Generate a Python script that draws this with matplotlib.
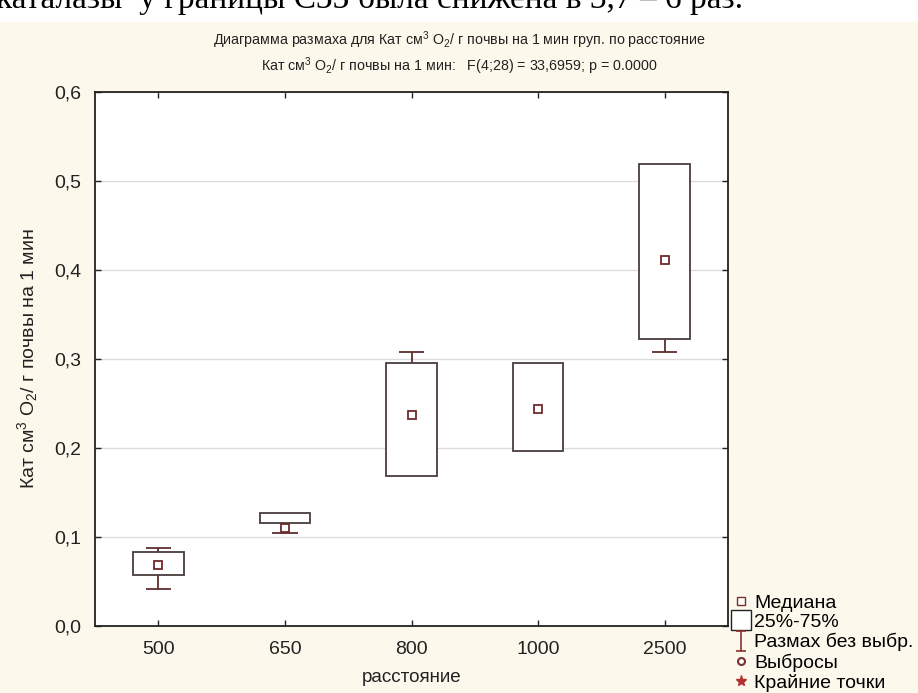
import numpy as np
import matplotlib
matplotlib.use('Agg')
import matplotlib.pyplot as plt
from matplotlib.lines import Line2D
from matplotlib.patches import Rectangle
from matplotlib.path import Path

plt.rcParams['font.family'] = ['Liberation Sans', 'DejaVu Sans']
plt.rcParams['mathtext.fontset'] = 'custom'
plt.rcParams['mathtext.rm'] = 'Liberation Sans'
plt.rcParams['mathtext.it'] = 'Liberation Sans'

# data
categories = ['500', '650', '800', '1000', '2500']
medians = [0.069, 0.110, 0.237, 0.244, 0.411]
q1 = [0.057, 0.116, 0.168, 0.197, 0.323]
q3 = [0.083, 0.127, 0.295, 0.295, 0.519]
whisk_lo = [0.042, 0.105, 0.168, 0.197, 0.308]
whisk_hi = [0.088, 0.127, 0.308, 0.295, 0.519]
yticks = [0.0, 0.1, 0.2, 0.3, 0.4, 0.5, 0.6]

box_col = '#4a3c3c'
wh_col = '#5e2e2e'
med_col = '#6e2a2a'
txt_col = '#222222'

fig = plt.figure(figsize=(9.18, 6.93), dpi=100)
fig.patch.set_facecolor('white')
fig.add_artist(Rectangle((0, 0), 1, 1 - 22 / 693, transform=fig.transFigure,
                         facecolor='#fcf8ec', edgecolor='none', zorder=-10))
# line of page text cut off above the chart
fig.text(-0.004, 1 - 8 / 693, 'каталазы  у границы СЗЗ была снижена в 3,7 – 6 раз.',
         fontsize=24, family='Liberation Serif', va='baseline', ha='left')

ax = fig.add_axes([95 / 918, 67 / 693, 633 / 918, 534 / 693])
ax.set_facecolor('white')
x = np.arange(len(categories))

ax.bar(x, np.array(q3) - np.array(q1), bottom=q1, width=0.4, facecolor='white',
       edgecolor=box_col, linewidth=1.3, zorder=3)
for i in range(len(categories)):
    if whisk_hi[i] > q3[i]:
        ax.vlines(x[i], q3[i], whisk_hi[i], color=wh_col, lw=1.3, zorder=2)
        ax.hlines(whisk_hi[i], x[i] - 0.1, x[i] + 0.1, color=wh_col, lw=1.3, zorder=2)
    if whisk_lo[i] < q1[i]:
        ax.vlines(x[i], whisk_lo[i], q1[i], color=wh_col, lw=1.3, zorder=2)
        ax.hlines(whisk_lo[i], x[i] - 0.1, x[i] + 0.1, color=wh_col, lw=1.3, zorder=2)
ax.plot(x, medians, 's', ms=6, mfc='white', mec=med_col, mew=1.3, ls='none', zorder=4)

ax.set_xlim(-0.5, len(categories) - 0.5)
ax.set_ylim(0, 0.6)
ax.set_xticks(x)
ax.set_xticklabels(categories)
ax.set_yticks(yticks)
ax.set_yticklabels([f'{v:.1f}'.replace('.', ',') for v in yticks])
ax.grid(axis='y', color='#dcdcdc', lw=1.0, zorder=0)
ax.tick_params(direction='in', top=True, right=True, length=4, width=1,
               labelsize=14, colors=txt_col)
ax.tick_params(axis='x', pad=11)
ax.tick_params(axis='y', pad=10)
for s in ax.spines.values():
    s.set_linewidth(1.3)
    s.set_color(txt_col)

ax.set_xlabel('расстояние', fontsize=13.5, labelpad=8, color=txt_col)
ax.set_ylabel(r'Кат см$^3$ O$_2$/ г почвы на 1 мин', fontsize=14, labelpad=10,
              color=txt_col)

fig.text(0.5, 1 - 40 / 693, r'Диаграмма размаха для Кат см$^3$ O$_2$/ г почвы на 1 мин груп. по расстояние',
         ha='center', va='center', fontsize=10.3, color=txt_col)
fig.text(0.5, 1 - 66 / 693, r'Кат см$^3$ O$_2$/ г почвы на 1 мин:   F(4;28) = 33,6959; p = 0.0000',
         ha='center', va='center', fontsize=10.3, color=txt_col)

# legend
ibeam = Path([(-0.5, 1), (0.5, 1), (0, 1), (0, -1), (-0.5, -1), (0.5, -1)],
             [Path.MOVETO, Path.LINETO, Path.MOVETO, Path.LINETO, Path.MOVETO, Path.LINETO])
handles = [
    Line2D([], [], marker='s', ms=6, mfc='white', mec='#7a3030', ls='none'),
    Line2D([], [], marker='s', ms=14, mfc='white', mec=txt_col, ls='none'),
    Line2D([], [], marker=ibeam, ms=15, mec='#8a3030', mew=1.2, ls='none'),
    Line2D([], [], marker='o', ms=5, mfc='white', mec='#7a3030', mew=1.5, ls='none'),
    Line2D([], [], marker='*', ms=8, color='#b03030', ls='none'),
]
labels = ['Медиана', '25%-75%', 'Размах без выбр.', 'Выбросы', 'Крайние точки']
fig.legend(handles, labels, loc='upper left', bbox_to_anchor=(733 / 918, 1 - 594 / 693),
           frameon=False, fontsize=14, handlelength=0.8, handletextpad=0.3,
           labelspacing=0.1, borderpad=0, borderaxespad=0)

fig.savefig('out.png', dpi=100, facecolor=fig.get_facecolor())
